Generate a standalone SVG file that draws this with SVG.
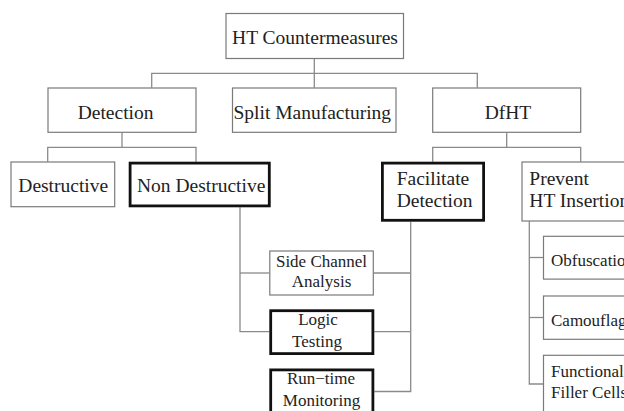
<svg xmlns="http://www.w3.org/2000/svg" width="624" height="411" viewBox="0 0 624 411">
<style>
.b{fill:#fff;stroke:#7a7a7a;stroke-width:1.2}
.k{fill:#fff;stroke:#111;stroke-width:2.8}
.c{fill:none;stroke:#8a8a8a;stroke-width:1.3}
text{font-family:"Liberation Serif","Times New Roman",serif;fill:#222}
.L{font-size:19.5px}
.S{font-size:17px}
.m{text-anchor:middle}
</style>
<rect width="624" height="411" fill="#fff"/>
<g id="connectors" class="c">
<path d="M314.3 58.3V87.7"/>
<path d="M151.7 87.7V73.3H477.3V87.7"/>
<path d="M122 132.3V147.3"/>
<path d="M47.7 161.7V147.3H196V161.7"/>
<path d="M506.7 132.3V147.3"/>
<path d="M432.7 161.7V147.3H580.7V161.7"/>
<path d="M240 207.3V331.7H269.3"/>
<path d="M240 273H269.3"/>
<path d="M410.7 221.7V391.5H374.3"/>
<path d="M373.3 273H410.7"/>
<path d="M374.3 331.7H410.7"/>
<path d="M529.3 221V384H543.3"/>
<path d="M529.3 257.5H543.3"/>
<path d="M529.3 317.5H543.3"/>
</g>
<g id="ht-countermeasures"><rect class="b" x="226" y="13.5" width="177.5" height="45"/><text class="L m" x="315" y="43.7">HT Countermeasures</text></g>
<g id="detection"><rect class="b" x="48" y="88" width="148" height="44.3"/><text class="L" x="77.7" y="118.5">Detection</text></g>
<g id="split-manufacturing"><rect class="b" x="232.5" y="88" width="163.5" height="44.3"/><text class="L" x="233.5" y="119">Split Manufacturing</text></g>
<g id="dfht"><rect class="b" x="432.7" y="88" width="148" height="44.3"/><text class="L m" x="508" y="118.5">DfHT</text></g>
<g id="destructive"><rect class="b" x="11" y="162" width="103.7" height="44.7"/><text class="L" x="18.3" y="191.5">Destructive</text></g>
<g id="non-destructive"><rect class="k" x="130.1" y="163.1" width="139.2" height="42.8"/><text class="L" x="137" y="191.5">Non Destructive</text></g>
<g id="facilitate-detection"><rect class="k" x="382.4" y="163.1" width="101.2" height="57.2"/><text class="L" x="396.7" y="185">Facilitate</text><text class="L" x="396.7" y="206.7">Detection</text></g>
<g id="prevent-ht-insertion"><rect class="b" x="522" y="162" width="130" height="59"/><text class="L" x="529.3" y="185">Prevent</text><text class="L" x="529.3" y="206.7">HT Insertion</text></g>
<g id="side-channel-analysis"><rect class="b" x="269.8" y="251" width="103.5" height="44"/><text class="S m" x="321.5" y="266.7">Side Channel</text><text class="S m" x="321.5" y="287">Analysis</text></g>
<g id="logic-testing"><rect class="k" x="270.7" y="310.7" width="102.2" height="42.9"/><text class="S m" x="318" y="325">Logic</text><text class="S m" x="317" y="346.5">Testing</text></g>
<g id="run-time-monitoring"><rect class="k" x="270.7" y="369.9" width="102.2" height="43"/><text class="S m" x="321" y="384">Run−time</text><text class="S m" x="321.5" y="405.5">Monitoring</text></g>
<g id="obfuscation"><rect class="b" x="543.5" y="236.3" width="100" height="42.8"/><text class="S" x="551" y="266">Obfuscation</text></g>
<g id="camouflage"><rect class="b" x="543.5" y="296" width="100" height="43.3"/><text class="S" x="551" y="325.5">Camouflage</text></g>
<g id="functional-filler-cells"><rect class="b" x="543.5" y="355.3" width="100" height="58"/><text class="S" x="551" y="376.7">Functional</text><text class="S" x="551" y="398.3">Filler Cells</text></g>
</svg>
